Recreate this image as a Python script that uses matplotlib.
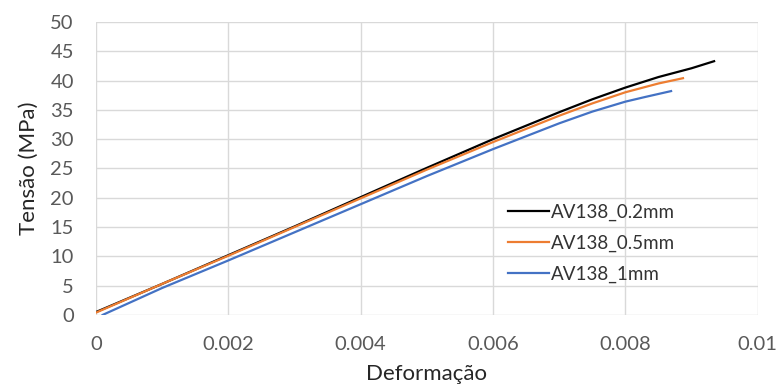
import numpy as np
import matplotlib.pyplot as plt

# stress-strain curves
x_02 = [0, 0.001, 0.002, 0.003, 0.004, 0.005, 0.006, 0.007, 0.0075, 0.008, 0.0085, 0.009, 0.00934]
y_02 = [0.5, 5.3, 10.2, 15.1, 20.1, 25.1, 30.0, 34.6, 36.8, 38.8, 40.6, 42.1, 43.3]

x_05 = [0, 0.001, 0.002, 0.003, 0.004, 0.005, 0.006, 0.007, 0.0075, 0.008, 0.0085, 0.00887]
y_05 = [0.4, 5.3, 10.1, 15.0, 19.9, 24.8, 29.5, 34.0, 36.1, 38.0, 39.5, 40.4]

x_1 = [0.0001, 0.001, 0.002, 0.003, 0.004, 0.005, 0.006, 0.007, 0.0075, 0.008, 0.0083, 0.00869]
y_1 = [0.0, 4.6, 9.3, 14.1, 18.9, 23.7, 28.3, 32.7, 34.7, 36.4, 37.2, 38.2]

labels = ['AV138_0.2mm', 'AV138_0.5mm', 'AV138_1mm']
xticks = [0, 0.002, 0.004, 0.006, 0.008, 0.01]
xticklabels = ['0', '0.002', '0.004', '0.006', '0.008', '0.01']

plt.rcParams['font.family'] = ['Lato', 'DejaVu Sans']

fig = plt.figure(figsize=(7.78, 3.85), dpi=100)
ax = fig.add_axes([0.1234, 0.182, 0.8506, 0.761])

ax.plot(x_02, y_02, color='#000000', lw=1.6, label=labels[0])
ax.plot(x_05, y_05, color='#ED7D31', lw=1.6, label=labels[1])
ax.plot(x_1, y_1, color='#4472C4', lw=1.6, label=labels[2])

ax.set_xlim(0, 0.01)
ax.set_ylim(0, 50)
ax.set_xticks(xticks)
ax.set_xticklabels(xticklabels)
ax.set_yticks(np.arange(0, 51, 5))
ax.grid(True, color='#d9d9d9', lw=1)
ax.set_axisbelow(True)
for s in ax.spines.values():
    s.set_visible(False)
ax.tick_params(length=0, labelsize=14.5, labelcolor='#595959')
ax.tick_params(axis='y', pad=16)
ax.tick_params(axis='x', pad=15)

ax.set_xlabel('Deformação', fontsize=16, color='#262626', labelpad=8)
ax.set_ylabel('Tensão (MPa)', fontsize=16, color='#262626', labelpad=8)

leg = ax.legend(loc='upper left', bbox_to_anchor=(0.622, 0.381), frameon=False,
                fontsize=13.5, handlelength=2.2, handletextpad=0.1, labelspacing=0.75,
                borderaxespad=0, borderpad=0)
for t in leg.get_texts():
    t.set_color('#333333')

fig.savefig('out.png', dpi=100)
